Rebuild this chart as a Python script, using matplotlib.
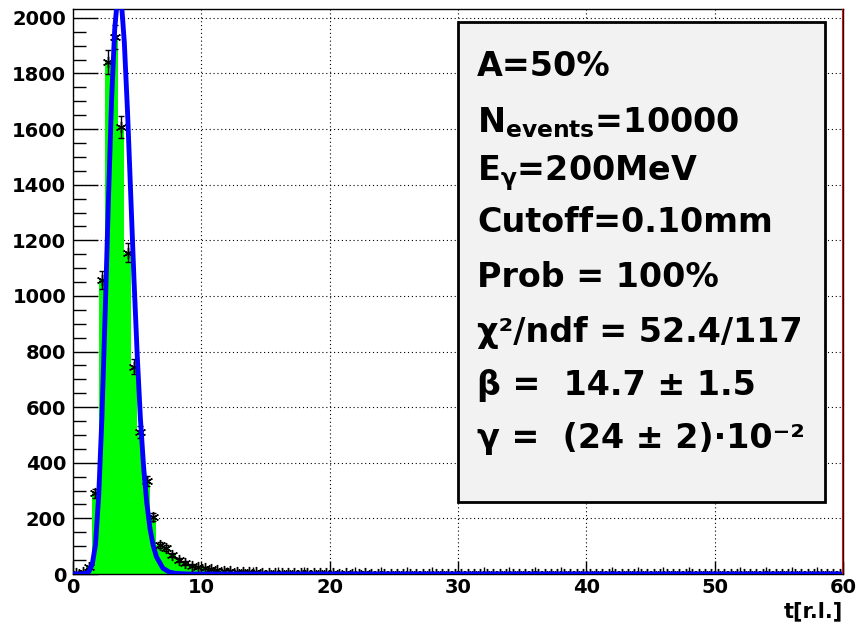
"""ROOT style histogram of the longitudinal shower profile with gamma fit."""
import numpy as np
import matplotlib
matplotlib.use("Agg")
import matplotlib.pyplot as plt
from matplotlib.patches import Rectangle
from matplotlib.ticker import MultipleLocator

plt.rcParams["font.family"] = ["DejaVu Sans"]
plt.rcParams["font.weight"] = "bold"
plt.rcParams["axes.labelweight"] = "bold"
plt.rcParams["mathtext.fontset"] = "dejavusans"
plt.rcParams["mathtext.default"] = "bf"

# histogram: 120 bins of 0.5 r.l. from 0 to 60
bin_edges = np.linspace(0, 60, 121)
peak_counts = [5, 9, 25, 290, 1058, 1840, 1932, 1607, 1155, 745, 511, 334,
               206, 104, 93, 68, 50, 39, 29, 25, 22, 18, 14, 12, 10, 9,
               8, 7, 6, 5, 5, 4, 4, 3, 3, 3]
tail_counts = [2, 3, 2, 2, 2, 1, 2, 1, 1, 2, 1, 1, 1, 0, 1, 1, 0, 1,
               1, 0, 1, 0, 1, 0, 0, 1, 0, 1, 0, 0, 1, 0, 0, 1, 0, 0,
               1, 0, 0, 0, 1, 0, 0, 0, 1, 0, 0, 0, 0, 1, 0, 0, 0, 0,
               0, 1, 0, 0, 0, 0, 0, 0, 1, 0, 0, 0, 0, 0, 0, 0, 0, 0,
               0, 0, 0, 0, 0, 0, 0, 0, 0, 0, 0, 0]
counts = np.array(peak_counts + tail_counts, dtype=float)

# fitted curve
fit_t = [0, 0.5, 1.0, 1.25, 1.5, 1.75, 2.0, 2.25, 2.5, 2.75, 3.0, 3.25,
         3.5, 3.75, 4.0, 4.25, 4.5, 4.75, 5.0, 5.25, 5.5, 5.75, 6.0,
         6.25, 6.5, 7.0, 7.5, 8.0, 9.0, 10.0, 60.0]
fit_vals = [0, 0, 2, 9, 35, 105, 280, 560, 930, 1330, 1700, 1960,
            2090, 2070, 1910, 1660, 1360, 1060, 790, 560, 385, 255, 163,
            102, 62, 21, 7, 2, 0, 0, 0]

stats_lines = [
    "A=50%",
    r"N$_{events}$=10000",
    r"E$_{\gamma}$=200MeV",
    "Cutoff=0.10mm",
    "Prob = 100%",
    "χ²/ndf = 52.4/117",
    "β =  14.7 ± 1.5",
    "γ =  (24 ± 2)·10⁻²",
]
stats_baselines = [0.881, 0.782, 0.697, 0.605, 0.508, 0.411, 0.317, 0.223]

fig = plt.figure(figsize=(8.59, 6.33), dpi=100)
ax = fig.add_axes([0.085, 0.0932, 0.8964, 0.8926])

centers = 0.5 * (bin_edges[:-1] + bin_edges[1:])
ax.stairs(counts, bin_edges, fill=True, color="#00ff00", zorder=2)
ax.errorbar(centers, counts, yerr=np.sqrt(counts), fmt="none", ecolor="black",
            elinewidth=1.0, capsize=2.5, capthick=1.0, zorder=3)
ax.plot(centers, counts, linestyle="none", marker=(6, 2, 0), markersize=8,
        color="black", markeredgewidth=1.0, zorder=4)
ax.plot(fit_t, fit_vals, color="#0000ff", linewidth=3.5, zorder=5)
ax.axvline(60, color="red", linewidth=1.5, zorder=6)

ax.set_xlim(0, 60)
ax.set_ylim(0, 2032)
ax.xaxis.set_major_locator(MultipleLocator(10))
ax.xaxis.set_minor_locator(MultipleLocator(2))
ax.yaxis.set_major_locator(MultipleLocator(200))
ax.yaxis.set_minor_locator(MultipleLocator(50))
ax.grid(True, which="major", color="black", linestyle=(0, (1, 2.5)),
        linewidth=0.8, zorder=1)
ax.set_axisbelow(True)

ax.tick_params(axis="y", which="major", direction="in", length=18, width=1,
               labelsize=14, pad=5)
ax.tick_params(axis="y", which="minor", direction="in", length=9, width=1)
ax.tick_params(axis="x", which="major", direction="in", length=9.5, width=1,
               labelsize=14, pad=3)
ax.tick_params(axis="x", which="minor", direction="in", length=4.7, width=1)
for spine in ax.spines.values():
    spine.set_linewidth(1.0)
    spine.set_color("black")

ax.set_xlabel("t[r.l.]", loc="right", fontsize=15, fontweight="bold",
              labelpad=3)

ax.add_patch(Rectangle((0.5, 0.127), 0.4766, 0.85, transform=ax.transAxes,
                       facecolor="#f2f2f2", edgecolor="black", linewidth=2,
                       zorder=7))
for line, yb in zip(stats_lines, stats_baselines):
    ax.text(0.5247, yb, line, transform=ax.transAxes, fontsize=24,
            va="baseline", ha="left", zorder=8)

fig.savefig("out.png", dpi=100)
